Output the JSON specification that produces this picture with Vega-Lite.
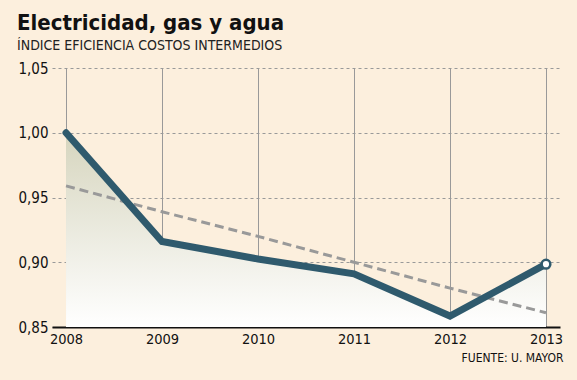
{
  "$schema": "https://vega.github.io/schema/vega-lite/v6.json",
  "width": 508,
  "height": 259,
  "autosize": {"type": "none"},
  "padding": {"left": 52, "top": 68, "right": 17, "bottom": 53},
  "background": "#FCEFDD",
  "title": {
    "text": "Electricidad, gas y agua",
    "subtitle": "ÍNDICE EFICIENCIA COSTOS INTERMEDIOS",
    "anchor": "start",
    "frame": "group",
    "dx": -35,
    "offset": 7,
    "font": "DejaVu Sans Condensed",
    "fontSize": 22,
    "fontWeight": "bold",
    "color": "#111111",
    "subtitleFont": "DejaVu Sans Condensed",
    "subtitleFontSize": 14,
    "subtitleColor": "#222222",
    "subtitlePadding": 4
  },
  "config": {
    "view": {"stroke": null},
    "font": "DejaVu Sans Condensed"
  },
  "data": {
    "values": [
      {"year": "2008", "value": 1.0, "trend": 0.959},
      {"year": "2009", "value": 0.916, "trend": 0.939},
      {"year": "2010", "value": 0.9025, "trend": 0.920},
      {"year": "2011", "value": 0.891, "trend": 0.900},
      {"year": "2012", "value": 0.8585, "trend": 0.880},
      {"year": "2013", "value": 0.8985, "trend": 0.861}
    ]
  },
  "encoding": {
    "x": {
      "field": "year",
      "type": "ordinal",
      "scale": {"type": "point", "padding": 0.146},
      "axis": {
        "labelAngle": 0,
        "labelFontSize": 14.5,
        "labelColor": "#111111",
        "labelPadding": 5,
        "ticks": false,
        "domainColor": "#111111",
        "domainWidth": 2,
        "grid": true,
        "gridColor": "#999999",
        "gridWidth": 1,
        "title": "FUENTE: U. MAYOR",
        "titleFontSize": 12,
        "titleFontWeight": "normal",
        "titleColor": "#111111",
        "titleAnchor": "end",
        "titleAlign": "right",
        "titleX": 511,
        "titlePadding": 7
      }
    }
  },
  "layer": [
    {
      "mark": {
        "type": "area",
        "color": {
          "gradient": "linear",
          "x1": 0, "y1": 0, "x2": 0, "y2": 1,
          "stops": [
            {"offset": 0, "color": "#D6D5BE"},
            {"offset": 1, "color": "#FFFFFF"}
          ]
        }
      },
      "encoding": {
        "y": {
          "field": "value",
          "type": "quantitative",
          "scale": {"domain": [0.85, 1.05], "zero": false, "padding": 0, "nice": false},
          "axis": {
            "values": [0.85, 0.9, 0.95, 1.0, 1.05],
            "labelExpr": "replace(format(datum.value, '.2f'), '.', ',')",
            "labelFontSize": 15,
            "labelColor": "#111111",
            "labelPadding": 4,
            "ticks": false,
            "domain": false,
            "grid": true,
            "gridColor": "#999999",
            "gridDash": [3, 3],
            "gridWidth": 1,
            "title": null
          }
        },
        "y2": {"datum": 0.85}
      }
    },
    {
      "mark": {"type": "line", "color": "#999999", "strokeWidth": 3, "strokeDash": [9, 5]},
      "encoding": {
        "y": {"field": "trend", "type": "quantitative"}
      }
    },
    {
      "mark": {"type": "line", "color": "#2F5A6D", "strokeWidth": 7, "strokeJoin": "miter", "strokeCap": "round"},
      "encoding": {
        "y": {"field": "value", "type": "quantitative"}
      }
    },
    {
      "transform": [{"filter": "datum.year == '2013'"}],
      "mark": {"type": "point", "filled": true, "fill": "#FFFFFF", "stroke": "#2F5A6D", "strokeWidth": 2.5, "size": 75, "opacity": 1},
      "encoding": {
        "y": {"field": "value", "type": "quantitative"}
      }
    }
  ]
}
